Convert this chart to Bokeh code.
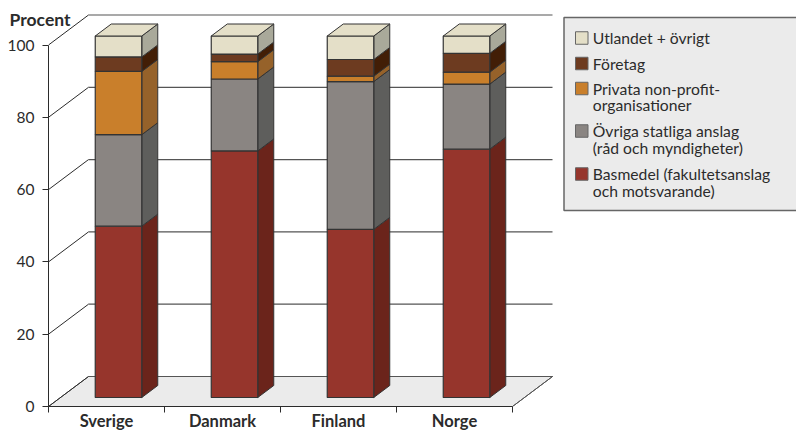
from bokeh.embed import file_html
from bokeh.models import FixedTicker, LinearAxis, Range1d
from bokeh.core.properties import value
from bokeh.plotting import figure
from bokeh.resources import INLINE

countries = ["Sverige", "Danmark", "Finland", "Norge"]
basmedel = [47.4, 68.2, 46.5, 68.7]
ovriga = [25.3, 19.9, 40.9, 18.0]
privata = [17.5, 4.8, 1.5, 3.3]
foretag = [4.0, 2.1, 4.6, 5.2]
utlandet = [5.8, 5.0, 6.5, 4.8]
y_ticks = [0, 20, 40, 60, 80, 100]

series = [
    (["Basmedel (fakultetsanslag", "och motsvarande)"], basmedel, "#96352c", "#6b241b"),
    (["Övriga statliga anslag", "(råd och myndigheter)"], ovriga, "#8a8582", "#5e5e5c"),
    (["Privata non-profit-", "organisationer"], privata, "#c97f2b", "#96622a"),
    (["Företag"], foretag, "#6d3b20", "#421e06"),
    (["Utlandet + övrigt"], utlandet, "#e4dfc8", "#a9a99a"),
]
TOP_FILL = "#e4dfc8"

FONT = "Lato"
TEXT = "#2b2b2b"
EDGE = "#333333"
GRID = "#555555"

# pixels per x unit (one category) and per percentage point
PX_X, PX_Y = 116.0, 3.615
FRAME_W, FRAME_H = 748, 406
LEFT = 48


def to_x(px):
    """Canvas column to x data units."""
    return (px - LEFT) / PX_X


def to_y(px):
    """Canvas row to y data units."""
    return (FRAME_H - px) / PX_Y


# oblique projection: depth of the floor, as offset in data units
DX, DY = 40 / PX_X, 30 / PX_Y
# bars occupy the middle 40 % of the floor's depth
GAP = 0.3
DEPTH = 0.4
BAR_W = 46.5 / PX_X

p = figure(
    width=796, height=430, frame_width=FRAME_W, frame_height=FRAME_H,
    x_range=Range1d(0, FRAME_W / PX_X), y_range=Range1d(0, FRAME_H / PX_Y),
    output_backend="svg", toolbar_location=None,
    min_border_left=LEFT, min_border_right=0, min_border_top=0, min_border_bottom=24,
    outline_line_color=None, background_fill_color="white", border_fill_color="white",
)
p.grid.visible = False

n = len(countries)

# floor
p.patch([0, DX, n + DX, n], [0, DY, DY, 0], fill_color="#ebebeb",
        line_color=GRID, line_width=1)

# side-wall diagonals and back-wall gridlines
p.segment(x0=[0] * len(y_ticks), y0=y_ticks, x1=[DX] * len(y_ticks),
          y1=[t + DY for t in y_ticks], line_color=TEXT, line_width=1)
p.segment(x0=[DX] * len(y_ticks), y0=[t + DY for t in y_ticks],
          x1=[n + DX] * len(y_ticks), y1=[t + DY for t in y_ticks],
          line_color=GRID, line_width=1.2)
p.segment(x0=[n], y0=[0], x1=[n + DX], y1=[DY], line_color=GRID, line_width=1)

# stacked columns: side faces, then front faces, then a top cap
centers = [i + 0.5 + GAP * DX for i in range(n)]
dep_x, dep_y = DEPTH * DX, DEPTH * DY

running = [GAP * DY] * n
for label, values, front, side in series:
    bottom = list(running)
    top = [b + v for b, v in zip(bottom, values)]
    right = [c + BAR_W / 2 for c in centers]
    p.patches(
        xs=[[r, r + dep_x, r + dep_x, r] for r in right],
        ys=[[b, b + dep_y, t + dep_y, t] for b, t in zip(bottom, top)],
        fill_color=side, line_color=EDGE, line_width=1,
    )
    p.vbar(x=centers, width=BAR_W, bottom=bottom, top=top,
           fill_color=front, line_color=EDGE, line_width=1.2)
    running = top

p.patches(
    xs=[[c - BAR_W / 2, c + BAR_W / 2, c + BAR_W / 2 + dep_x, c - BAR_W / 2 + dep_x]
        for c in centers],
    ys=[[t, t, t + dep_y, t + dep_y] for t in running],
    fill_color=TOP_FILL, line_color=EDGE, line_width=1,
)

# axes
yax = p.yaxis[0]
yax.ticker = FixedTicker(ticks=y_ticks)
yax.bounds = (0, 100)
yax.major_tick_out, yax.major_tick_in, yax.minor_tick_out, yax.minor_tick_in = 6, 0, 0, 0
yax.major_label_standoff = 8
yax.major_label_text_font = FONT
yax.major_label_text_font_size = "15.5px"
yax.major_label_text_color = TEXT
yax.axis_line_color = TEXT
yax.major_tick_line_color = TEXT

xax = p.xaxis[0]
xax.ticker = FixedTicker(ticks=[i + 0.5 for i in range(n)], minor_ticks=list(range(n + 1)))
xax.major_label_overrides = {i + 0.5: c for i, c in enumerate(countries)}
xax.bounds = (0, n)
xax.major_tick_out, xax.major_tick_in, xax.minor_tick_in = 0, 0, 0
xax.minor_tick_out = 6
xax.major_label_standoff = -2
xax.major_label_text_font = FONT
xax.major_label_text_font_style = "bold"
xax.major_label_text_font_size = "16.5px"
xax.major_label_text_color = TEXT
xax.axis_line_color = TEXT
xax.minor_tick_line_color = TEXT

# the unit caption sits above the scale, carried by a bare axis of its own
unit_axis = LinearAxis(
    ticker=FixedTicker(ticks=[107]), major_label_overrides={107: "Procent"},
    axis_line_color=None, major_tick_line_color=None, minor_tick_line_color=None,
    major_tick_out=0, major_tick_in=0, minor_tick_out=0, minor_tick_in=0,
    major_label_standoff=-66, major_label_text_font=FONT,
    major_label_text_font_style="bold", major_label_text_font_size="17.5px",
    major_label_text_color=TEXT,
)
p.add_layout(unit_axis, "left")

# legend panel, running off the right edge
BOX_L, BOX_T, BOX_B = 563.5, 17, 210
p.quad(left=[to_x(BOX_L)], right=[to_x(800)], top=[to_y(BOX_T)], bottom=[to_y(BOX_B)],
       fill_color="#ebebeb", line_color="#666666", line_width=1.5)

# row order follows the stack from top to bottom
row_centers = [37.5, 63, 88, 130.5, 173.5]
SWATCH_L, SWATCH_R, SWATCH_H = 575, 587.5, 12.5
TEXT_L = 592.3
LINE_STEP = 16.8
for (lines, _, front, _side), cy in zip(reversed(series), row_centers):
    p.quad(left=[to_x(SWATCH_L)], right=[to_x(SWATCH_R)],
           top=[to_y(cy - SWATCH_H / 2)], bottom=[to_y(cy + SWATCH_H / 2)],
           fill_color=front, line_color="#666666", line_width=1)
    p.text(x=[to_x(TEXT_L)] * len(lines),
           y=[to_y(cy + i * LINE_STEP) for i in range(len(lines))],
           text=lines, text_font=value(FONT), text_font_size="15.7px",
           text_color=TEXT, text_baseline="middle", text_align="left")

open("out.html", "w").write(file_html(p, INLINE))
